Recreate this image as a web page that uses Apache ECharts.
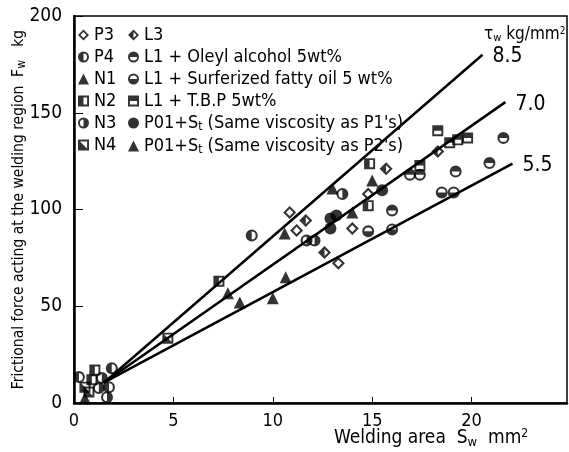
<!DOCTYPE html>
<html>
<head>
<meta charset="utf-8">
<script src="https://cdn.jsdelivr.net/npm/echarts@6/dist/echarts.min.js"></script>
<style>html,body{margin:0;padding:0;background:#fff;}#c{width:569px;height:452px;}</style>
</head>
<body>
<div id="c"></div>
<script>
// ---- data (x: welding area mm^2, y: frictional force kg) ----
const xTicks = [0, 5, 10, 15, 20];
const yTicks = [0, 50, 100, 150, 200];
const P3 = [[10.85,98.5],[11.2,89.2],[13.3,72.2],[14.0,90.2],[14.8,108]];
const L3 = [[11.66,94.3],[12.6,77.8],[15.7,121],[18.3,130]];
const P4 = [[8.94,86.6],[0.25,13.4],[1.9,18],[1.76,8.2]];
const L1_oleyl = [[16.9,118],[17.4,118],[19.2,119.6],[20.9,124],[21.6,137],[16.0,99.5]];
const N1 = [[10.6,87.6],[13.0,110.8],[14.0,98.5],[15.0,115],[0.55,2.5]];
const L1_surf = [[14.8,88.7],[16.0,89.7],[18.5,108.8],[19.1,108.8]];
const N2 = [[7.29,62.9],[14.87,123.7],[14.8,102],[1.05,17],[0.9,12]];
const L1_tbp = [[17.4,122.7],[18.3,140.7],[18.9,134.5],[19.3,136],[19.8,137]];
const N3 = [[13.5,108],[11.7,84],[12.1,84],[1.4,12.9],[1.25,7.7],[1.66,3]];
const P01_P1 = [[15.5,110],[13.2,96.9],[12.9,95.4],[12.9,90.2]];
const N4 = [[4.72,33.5],[0.55,8.2],[0.75,5.7]];
const P01_P2 = [[7.74,56.7],[8.34,52],[10.0,54.1],[10.65,65]];
const tau85 = [[1.5,10.5],[20.55,180]];
const tau70 = [[1.5,10.5],[21.7,155.5]];
const tau55 = [[1.5,10.5],[22.06,123.7]];
const tauLabels = ['8.5', '7.0', '5.5'];

// ---- symbols ----
const C_OUT = 'M10,0 A10,10 0 1,1 10,20 A10,10 0 1,1 10,0 Z ';
const C_IN = 'M10,3.5 A6.5,6.5 0 1,0 10,16.5 A6.5,6.5 0 1,0 10,3.5 Z ';
const D_OUT = 'M10,0 L20,10 L10,20 L0,10 Z ';
const D_IN = 'M10,4.5 L4.5,10 L10,15.5 L15.5,10 Z ';
const S_OUT = 'M0,0 L20,0 L20,20 L0,20 Z ';
const S_IN = 'M3.5,3.5 L3.5,16.5 L16.5,16.5 L16.5,3.5 Z ';
const sym = {
  openDiamond: 'path://' + D_OUT + D_IN,
  halfDiamond: 'path://' + D_OUT + D_IN + 'M10,4.5 L4.5,10 L10,15.5 Z',
  circLeft: 'path://' + C_OUT + C_IN + 'M10,3.5 A6.5,6.5 0 0,0 10,16.5 Z',
  circRight: 'path://' + C_OUT + C_IN + 'M10,3.5 A6.5,6.5 0 0,1 10,16.5 Z',
  circTop: 'path://' + C_OUT + C_IN + 'M3.5,10 A6.5,6.5 0 0,1 16.5,10 Z',
  circBottom: 'path://' + C_OUT + C_IN + 'M3.5,10 A6.5,6.5 0 0,0 16.5,10 Z',
  sqLeft: 'path://' + S_OUT + S_IN + 'M3.5,3.5 L10,3.5 L10,16.5 L3.5,16.5 Z',
  sqTop: 'path://' + S_OUT + S_IN + 'M3.5,3.5 L16.5,3.5 L16.5,10 L3.5,10 Z',
  sqDiag: 'path://' + S_OUT + S_IN + 'M3.5,3.5 L3.5,16.5 L16.5,16.5 Z'
};

const FONT = '"Liberation Sans Narrow", "DejaVu Sans Condensed", sans-serif';
const names = {
  P3: 'P3', L3: 'L3', P4: 'P4', oleyl: 'L1 + Oleyl alcohol 5wt%',
  N1: 'N1', surf: 'L1 + Surferized fatty oil 5 wt%', N2: 'N2', tbp: 'L1 + T.B.P 5wt%',
  N3: 'N3', p1: "P01+St (Same viscosity as P1's)", N4: 'N4', p2: "P01+St (Same viscosity as P2's)"
};

function sc(name, data, symbol, size) {
  return {
    type: 'scatter', name: name, data: data, symbol: symbol, symbolSize: size || 12,
    itemStyle: {color: '#000', borderWidth: 0}, z: 5
  };
}
function ln(data, label) {
  return {
    type: 'line', data: data, symbol: 'none', silent: true, z: 3,
    lineStyle: {color: '#000', width: 2.5},
    endLabel: {show: true, formatter: label, color: '#000', fontFamily: FONT, fontSize: 21, distance: 10, offset: [0, 2]}
  };
}

const legendRich = {
  n: {fontFamily: FONT, fontSize: 18, color: '#000'},
  s: {fontFamily: FONT, fontSize: 12, color: '#000', verticalAlign: 'bottom', padding: [8, 0, 0, 0]}
};
function legendFmt(name) {
  if (name.indexOf('+St') >= 0) {
    const parts = name.split('+St');
    return '{n|' + parts[0] + '+S}{s|t}{n|' + parts[1] + '}';
  }
  return '{n|' + name + '}';
}

const chart = echarts.init(document.getElementById('c'), null, {renderer: 'canvas'});
chart.setOption({
  animation: false,
  backgroundColor: '#fff',
  grid: {left: 74, right: 2, top: 16, bottom: 49, show: true, borderColor: '#000', borderWidth: 1.5,
    containLabel: false, outerBoundsMode: 'none'},
  xAxis: {
    type: 'value', min: 0, max: 24.8, interval: 5,
    axisLine: {show: true, lineStyle: {color: '#000', width: 2.5}},
    axisTick: {show: true, inside: true, length: 6, lineStyle: {color: '#000', width: 1}},
    splitLine: {show: false},
    axisLabel: {color: '#000', fontFamily: FONT, fontSize: 18, margin: 9, showMaxLabel: false,
      formatter: v => (xTicks.indexOf(v) >= 0 ? String(v) : '')}
  },
  yAxis: {
    type: 'value', min: 0, max: 200, interval: 50,
    axisLine: {show: true, lineStyle: {color: '#000', width: 2.5}},
    axisTick: {show: true, inside: true, length: 9, lineStyle: {color: '#000', width: 1}},
    splitLine: {show: false},
    axisLabel: {color: '#000', fontFamily: FONT, fontSize: 19, margin: 12,
      formatter: v => (yTicks.indexOf(v) >= 0 ? String(v) : '')},
    name: '{n|Frictional force acting at the welding region  F}{s|w}{n|   kg}',
    nameLocation: 'middle', nameGap: 46, nameMoveOverlap: false,
    nameTextStyle: {rich: {
      n: {fontFamily: FONT, fontSize: 15.5, color: '#000'},
      s: {fontFamily: FONT, fontSize: 12, color: '#000', padding: [6, 0, 0, 0]}
    }}
  },
  legend: [{
    orient: 'vertical', left: 78, top: 26, itemGap: 4, itemWidth: 11, itemHeight: 11,
    textStyle: {rich: legendRich}, formatter: legendFmt, padding: 0,
    data: [names.P3, names.P4, names.N1, names.N2, names.N3, names.N4]
  }, {
    orient: 'vertical', left: 128, top: 26, itemGap: 4, itemWidth: 11, itemHeight: 11,
    textStyle: {rich: legendRich}, formatter: legendFmt, padding: 0,
    data: [names.L3, names.oleyl, names.surf, names.tbp, names.p1, names.p2]
  }],
  graphic: [{
    type: 'text', left: 334, top: 428,
    style: {
      text: '{n|Welding area  S}{s|w}{n|  mm}{p|2}',
      rich: {
        n: {fontFamily: FONT, fontSize: 19, fill: '#000'},
        s: {fontFamily: FONT, fontSize: 13, fill: '#000', padding: [9, 0, 0, 0]},
        p: {fontFamily: FONT, fontSize: 12, fill: '#000', padding: [0, 0, 9, 0]}
      }
    }
  }, {
    type: 'text', left: 484, top: 26,
    style: {
      text: '{n|τ}{s|w}{n| kg/mm}{p|2}',
      rich: {
        n: {fontFamily: FONT, fontSize: 17, fill: '#000'},
        s: {fontFamily: FONT, fontSize: 11, fill: '#000', padding: [7, 0, 0, 0]},
        p: {fontFamily: FONT, fontSize: 10, fill: '#000', padding: [0, 0, 8, 0]}
      }
    }
  }],
  series: [
    ln(tau85, tauLabels[0]), ln(tau70, tauLabels[1]), ln(tau55, tauLabels[2]),
    sc(names.P3, P3, sym.openDiamond, 13),
    sc(names.L3, L3, sym.halfDiamond, 13),
    sc(names.P4, P4, sym.circLeft),
    sc(names.oleyl, L1_oleyl, sym.circTop),
    sc(names.N1, N1, 'triangle', 12),
    sc(names.surf, L1_surf, sym.circBottom),
    sc(names.N2, N2, sym.sqLeft, 11),
    sc(names.tbp, L1_tbp, sym.sqTop, 11),
    sc(names.N3, N3, sym.circRight),
    sc(names.p1, P01_P1, 'circle', 12),
    sc(names.N4, N4, sym.sqDiag, 11),
    sc(names.p2, P01_P2, 'triangle', 12)
  ]
});
</script>
</body>
</html>
